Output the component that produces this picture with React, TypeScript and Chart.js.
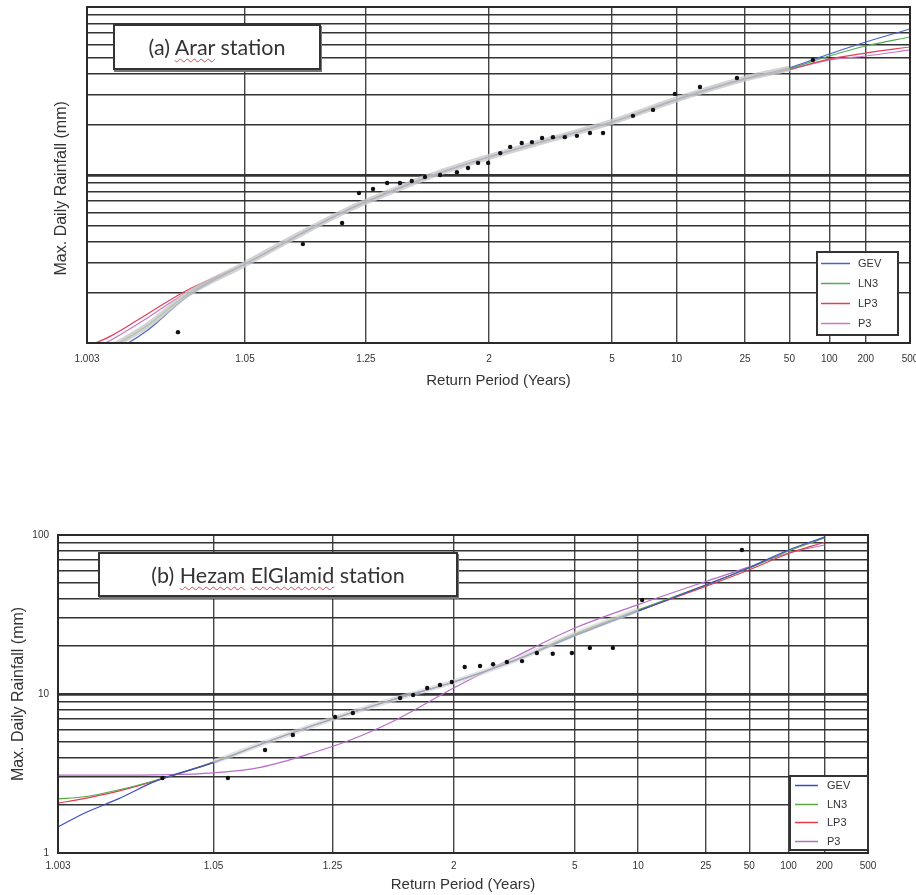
import React, { useEffect, useRef } from 'react';
import { Chart, Scale, registerables } from 'chart.js';

Chart.register(...registerables);

// ---------- axis ticks ----------
const returnPeriodTicks = [1.003, 1.05, 1.25, 2, 5, 10, 25, 50, 100, 200, 500];
const rainfallGrid = [1, 2, 3, 4, 5, 6, 7, 8, 9, 10, 20, 30, 40, 50, 60, 70, 80, 90, 100];
const rainfallLabelsB = [1, 10, 100];
const distributionNames = ['GEV', 'LN3', 'LP3', 'P3'];

// ---------- (a) Arar station ----------
const fitT_A = [1.003, 1.005, 1.01, 1.02, 1.05, 1.1, 1.2, 1.3, 1.5, 2, 3, 5, 10, 25, 50, 100, 200, 500];
const gevA = [0.75, 0.88, 1.2, 1.9, 2.95, 4.22, 6.19, 7.56, 9.65, 12.8, 16.4, 20.6, 28.0, 37.5, 43.5, 52.5, 61.9, 74.0];
const ln3A = [0.8, 0.95, 1.28, 1.95, 2.95, 4.25, 6.2, 7.56, 9.65, 12.8, 16.4, 20.7, 28.2, 37.5, 43.0, 51.1, 58.6, 66.3];
const lp3A = [0.95, 1.11, 1.5, 2.07, 2.95, 4.25, 6.19, 7.56, 9.65, 12.8, 16.4, 20.7, 28.2, 37.3, 42.5, 49.0, 53.2, 57.8];
const p3A = [0.9, 1.05, 1.42, 2.02, 2.95, 4.25, 6.2, 7.56, 9.65, 12.8, 16.4, 20.7, 28.2, 37.2, 42.3, 48.4, 51.1, 55.5];
const obsT_A = [1.017, 1.113, 1.187, 1.23, 1.272, 1.321, 1.372, 1.426, 1.494, 1.585, 1.704, 1.795, 1.887, 1.99, 2.13, 2.26, 2.43, 2.6, 2.79, 3.02, 3.31, 3.65, 4.08, 4.59, 6.15, 7.63, 9.81, 13.4, 22.2, 74.6];
const obsA = [1.16, 3.88, 5.18, 7.81, 8.26, 8.96, 8.96, 9.21, 9.73, 10.0, 10.4, 11.0, 11.8, 11.8, 13.5, 14.7, 15.5, 15.7, 16.6, 16.8, 16.8, 17.1, 17.8, 17.8, 22.5, 24.4, 30.4, 33.4, 37.8, 48.4];

// ---------- (b) Hezam ElGlamid station ----------
const fitT_B = [1.003, 1.005, 1.01, 1.02, 1.05, 1.1, 1.2, 1.3, 1.5, 2, 3, 5, 10, 25, 50, 100, 200];
const gevB = [1.46, 1.76, 2.19, 2.85, 3.7, 4.85, 6.38, 7.49, 9.17, 11.9, 16.3, 23.3, 33.2, 48.5, 62.5, 80.5, 97.0];
const ln3B = [2.19, 2.25, 2.49, 2.88, 3.73, 4.85, 6.38, 7.49, 9.17, 11.9, 16.4, 23.8, 33.8, 48.5, 62.0, 79.3, 95.8];
const lp3B = [2.06, 2.19, 2.45, 2.86, 3.73, 4.85, 6.38, 7.49, 9.17, 11.9, 16.4, 23.5, 33.3, 47.5, 60.5, 76.5, 90.0];
const p3B = [3.09, 3.09, 3.09, 3.1, 3.19, 3.47, 4.3, 5.06, 6.67, 10.9, 17.2, 26.0, 36.5, 51.0, 63.0, 77.1, 86.5];
const obsT_B = [1.022, 1.062, 1.105, 1.152, 1.258, 1.319, 1.55, 1.637, 1.745, 1.859, 1.98, 2.13, 2.34, 2.55, 2.81, 3.15, 3.55, 4.07, 4.86, 5.81, 7.44, 10.5, 44.2];
const obsB = [2.96, 2.96, 4.44, 5.52, 7.17, 7.6, 9.44, 9.86, 10.9, 11.4, 11.9, 14.8, 15.0, 15.4, 15.9, 16.1, 18.1, 17.9, 18.1, 19.5, 19.5, 39.0, 80.5];

// ---------- normal probability (return period) scale ----------
function invNorm(p: number): number {
  const a = [-39.69683028665376, 220.9460984245205, -275.9285104469687, 138.357751867269, -30.66479806614716, 2.506628277459239];
  const b = [-54.47609879822406, 161.5858368580409, -155.6989798598866, 66.80131188771972, -13.28068155288572];
  const c = [-0.007784894002430293, -0.3223964580411365, -2.400758277161838, -2.549732539343734, 4.374664141464968, 2.938163982698783];
  const d = [0.007784695709041462, 0.3224671290700398, 2.445134137142996, 3.754408661907416];
  const pl = 0.02425;
  if (p < pl) {
    const q = Math.sqrt(-2 * Math.log(p));
    return (((((c[0] * q + c[1]) * q + c[2]) * q + c[3]) * q + c[4]) * q + c[5]) / ((((d[0] * q + d[1]) * q + d[2]) * q + d[3]) * q + 1);
  }
  if (p <= 1 - pl) {
    const q = p - 0.5;
    const r = q * q;
    return ((((((a[0] * r + a[1]) * r + a[2]) * r + a[3]) * r + a[4]) * r + a[5]) * q) / (((((b[0] * r + b[1]) * r + b[2]) * r + b[3]) * r + b[4]) * r + 1);
  }
  const q = Math.sqrt(-2 * Math.log(1 - p));
  return -(((((c[0] * q + c[1]) * q + c[2]) * q + c[3]) * q + c[4]) * q + c[5]) / ((((d[0] * q + d[1]) * q + d[2]) * q + d[3]) * q + 1);
}
function normCdf(z: number): number {
  const x = Math.abs(z) / Math.SQRT2;
  const t = 1 / (1 + 0.3275911 * x);
  const y = 1 - (((((1.061405429 * t - 1.453152027) * t) + 1.421413741) * t - 0.284496736) * t + 0.254829592) * t * Math.exp(-x * x);
  return z >= 0 ? 0.5 * (1 + y) : 0.5 * (1 - y);
}
const zOfT = (T: number) => invNorm(1 - 1 / T);

class ReturnPeriodScale extends (Scale as any) {
  static id = 'returnPeriod';
  static defaults = {};
  _zMin = 0;
  _zRange = 1;
  parse(raw: any) {
    const v = +raw;
    return isFinite(v) && v > 1 ? v : null;
  }
  determineDataLimits() {
    this.min = Number(this.options.min);
    this.max = Number(this.options.max);
  }
  buildTicks() {
    return returnPeriodTicks.map((v) => ({ value: v }));
  }
  getLabelForValue(v: number) {
    return String(v);
  }
  configure() {
    super.configure();
    this._zMin = zOfT(this.min);
    this._zRange = zOfT(this.max) - this._zMin;
  }
  getPixelForValue(v: number) {
    return this.getPixelForDecimal((zOfT(v) - this._zMin) / this._zRange);
  }
  getValueForPixel(px: number) {
    const z = this._zMin + this.getDecimalForPixel(px) * this._zRange;
    return 1 / (1 - normCdf(z));
  }
}
Chart.register(ReturnPeriodScale as any);

// ---------- frame + legend plugin ----------
const frameAndLegend = {
  id: 'frameAndLegend',
  afterDatasetsDraw(chart: any, _args: any, opts: any) {
    const { ctx, chartArea: a } = chart;
    ctx.save();
    ctx.strokeStyle = '#2a2a2a';
    ctx.lineWidth = 2;
    ctx.strokeRect(a.left, a.top, a.right - a.left, a.bottom - a.top);
    const b = opts.box;
    ctx.fillStyle = '#ffffff';
    ctx.fillRect(b.left, b.top, b.width, b.height);
    ctx.strokeStyle = '#333';
    ctx.lineWidth = 2;
    ctx.strokeRect(b.left, b.top, b.width, b.height);
    ctx.font = "11px 'Liberation Sans', Arial, sans-serif";
    ctx.textBaseline = 'middle';
    ctx.textAlign = 'left';
    const items = chart.data.datasets.filter((d: any) => d.inLegend);
    items.forEach((d: any, i: number) => {
      const y = Math.round(b.top + opts.firstRow + i * opts.rowGap) + 0.5;
      ctx.strokeStyle = d.borderColor;
      ctx.lineWidth = 1.5;
      ctx.beginPath();
      ctx.moveTo(b.left + opts.lineFrom, y);
      ctx.lineTo(b.left + opts.lineTo, y);
      ctx.stroke();
      ctx.fillStyle = '#333';
      ctx.fillText(d.label, b.left + opts.textX, y);
    });
    ctx.restore();
  },
};

const tickFont = { family: "'Liberation Sans', Arial, sans-serif", size: 10 };
const xTitleFont = { family: "'Liberation Sans', Arial, sans-serif", size: 15 };
const yTitleFont = { family: "'Liberation Sans', Arial, sans-serif", size: 16 };

function buildConfig(s: any) {
  const series = [s.gev, s.ln3, s.lp3, s.p3];
  const curves = distributionNames.map((name, k) => ({
    label: name,
    inLegend: true,
    data: s.fitT.map((t: number, j: number) => ({ x: t, y: series[k][j] })),
    borderColor: s.colors[k],
    borderWidth: 1.2,
    pointRadius: 0,
    cubicInterpolationMode: 'monotone',
    fill: false,
    order: 2,
  }));
  const band = {
    label: 'band',
    data: s.fitT.slice(s.bandFrom, s.bandTo).map((t: number, j: number) => ({ x: t, y: s.ln3[j + s.bandFrom] })),
    borderColor: s.bandColor,
    borderWidth: s.bandWidth,
    pointRadius: 0,
    cubicInterpolationMode: 'monotone',
    fill: false,
    order: 1,
  };
  const points = {
    label: 'Observed',
    data: s.obsT.map((t: number, i: number) => ({ x: t, y: s.obs[i] })),
    showLine: false,
    pointRadius: 2.2,
    pointBackgroundColor: '#111',
    pointBorderWidth: 0,
    order: 0,
  };
  return {
    type: 'line',
    data: { datasets: [points, band, ...curves] },
    plugins: [frameAndLegend],
    options: {
      responsive: false,
      animation: false,
      devicePixelRatio: 1,
      layout: { autoPadding: false, padding: s.padding },
      plugins: {
        legend: { display: false },
        tooltip: { enabled: false },
        frameAndLegend: s.legend,
      },
      scales: {
        x: {
          type: 'returnPeriod',
          min: 1.003,
          max: 500,
          ticks: { autoSkip: false, maxRotation: 0, minRotation: 0, padding: s.xTickPad, font: tickFont, color: '#333', callback: (v: number) => String(v) },
          grid: { color: '#444', lineWidth: 1.4, drawTicks: false },
          border: { display: false },
          title: { display: true, text: 'Return Period (Years)', font: xTitleFont, color: '#333', padding: { top: 0, bottom: s.xTitlePad } },
          afterFit: (ax: any) => {
            ax.height = s.xAxisHeight;
            ax.paddingLeft = 0;
            ax.paddingRight = 0;
          },
        },
        y: {
          type: 'logarithmic',
          min: 1,
          max: 100,
          afterBuildTicks: (ax: any) => {
            ax.ticks = rainfallGrid.map((v) => ({ value: v, major: v === 10 }));
          },
          ticks: { autoSkip: false, padding: 9, font: tickFont, color: '#333', callback: (v: number) => (s.yLabels.includes(v) ? String(v) : '') },
          grid: { color: '#333', lineWidth: (c: any) => (c.tick && c.tick.value === 10 ? 2.8 : 1.5), drawTicks: false },
          border: { display: false },
          title: { display: true, text: s.yTitle, font: yTitleFont, color: '#333', padding: { top: s.yTitlePad, bottom: 0 } },
          afterFit: (ax: any) => {
            ax.width = s.yAxisWidth;
            ax.paddingTop = 0;
            ax.paddingBottom = 0;
          },
        },
      },
    },
  };
}

const specA = {
  fitT: fitT_A, gev: gevA, ln3: ln3A, lp3: lp3A, p3: p3A, obsT: obsT_A, obs: obsA,
  colors: ['#4a62c8', '#4caf50', '#e0405a', '#c878c0'],
  bandFrom: 1, bandTo: 15, bandColor: 'rgba(200,200,200,0.8)', bandWidth: 6,
  padding: { left: 0, right: 6, top: 7, bottom: 0 },
  yAxisWidth: 87, xAxisHeight: 52, xTickPad: 10, xTitlePad: 5, yTitlePad: 52,
  yTitle: 'Max. Daily Rainfall (mm)      ',
  yLabels: [] as number[],
  legend: { box: { left: 817, top: 252, width: 81, height: 83 }, lineFrom: 4, lineTo: 33, textX: 41, firstRow: 11, rowGap: 20 },
};

const specB = {
  fitT: fitT_B, gev: gevB, ln3: ln3B, lp3: lp3B, p3: p3B, obsT: obsT_B, obs: obsB,
  colors: ['#3b4fc0', '#5aa646', '#e03c4c', '#b86cc8'],
  bandFrom: 4, bandTo: 13, bandColor: 'rgba(210,210,210,0.65)', bandWidth: 5,
  padding: { left: 0, right: 48, top: 35, bottom: 0 },
  yAxisWidth: 58, xAxisHeight: 42, xTickPad: 7, xTitlePad: 1, yTitlePad: 9,
  yTitle: 'Max. Daily Rainfall (mm)',
  yLabels: rainfallLabelsB,
  legend: { box: { left: 790, top: 276, width: 78, height: 74 }, lineFrom: 5, lineTo: 28, textX: 37, firstRow: 9, rowGap: 18.7 },
};

function ChartCanvas({ spec, top, height }: { spec: any; top: number; height: number }) {
  const ref = useRef<HTMLCanvasElement | null>(null);
  useEffect(() => {
    const chart = new Chart(ref.current as any, buildConfig(spec) as any);
    return () => chart.destroy();
  }, [spec]);
  return <canvas ref={ref} width={916} height={height} style={{ position: 'absolute', left: 0, top, width: 916, height }} />;
}

const wavy: React.CSSProperties = {
  textDecorationLine: 'underline',
  textDecorationStyle: 'wavy',
  textDecorationColor: '#e04848',
  textDecorationThickness: '1px',
  textUnderlineOffset: '3px',
};

function TitleBox({ left, top, width, height, children }: any) {
  return (
    <div
      style={{
        position: 'absolute', left, top, width, height, boxSizing: 'border-box',
        border: '2px solid #333', boxShadow: '1px 2px 0 #777', background: '#fff',
        display: 'flex', alignItems: 'center', justifyContent: 'center',
        fontFamily: "Lato, 'Open Sans', sans-serif", fontSize: 21.5, color: '#333', whiteSpace: 'nowrap',
      }}
    >
      {children}
    </div>
  );
}

export default function App() {
  return (
    <div style={{ position: 'absolute', left: 0, top: 0, width: 916, height: 895, background: '#fff', overflow: 'hidden' }}>
      <ChartCanvas spec={specA} top={0} height={395} />
      <ChartCanvas spec={specB} top={500} height={395} />
      <TitleBox left={113} top={24} width={208} height={46}>
        <span>(a) <span style={wavy}>Arar</span> station</span>
      </TitleBox>
      <TitleBox left={98} top={552} width={360} height={45}>
        <span>(b) <span style={wavy}>Hezam</span> <span style={wavy}>ElGlamid</span> station</span>
      </TitleBox>
    </div>
  );
}
